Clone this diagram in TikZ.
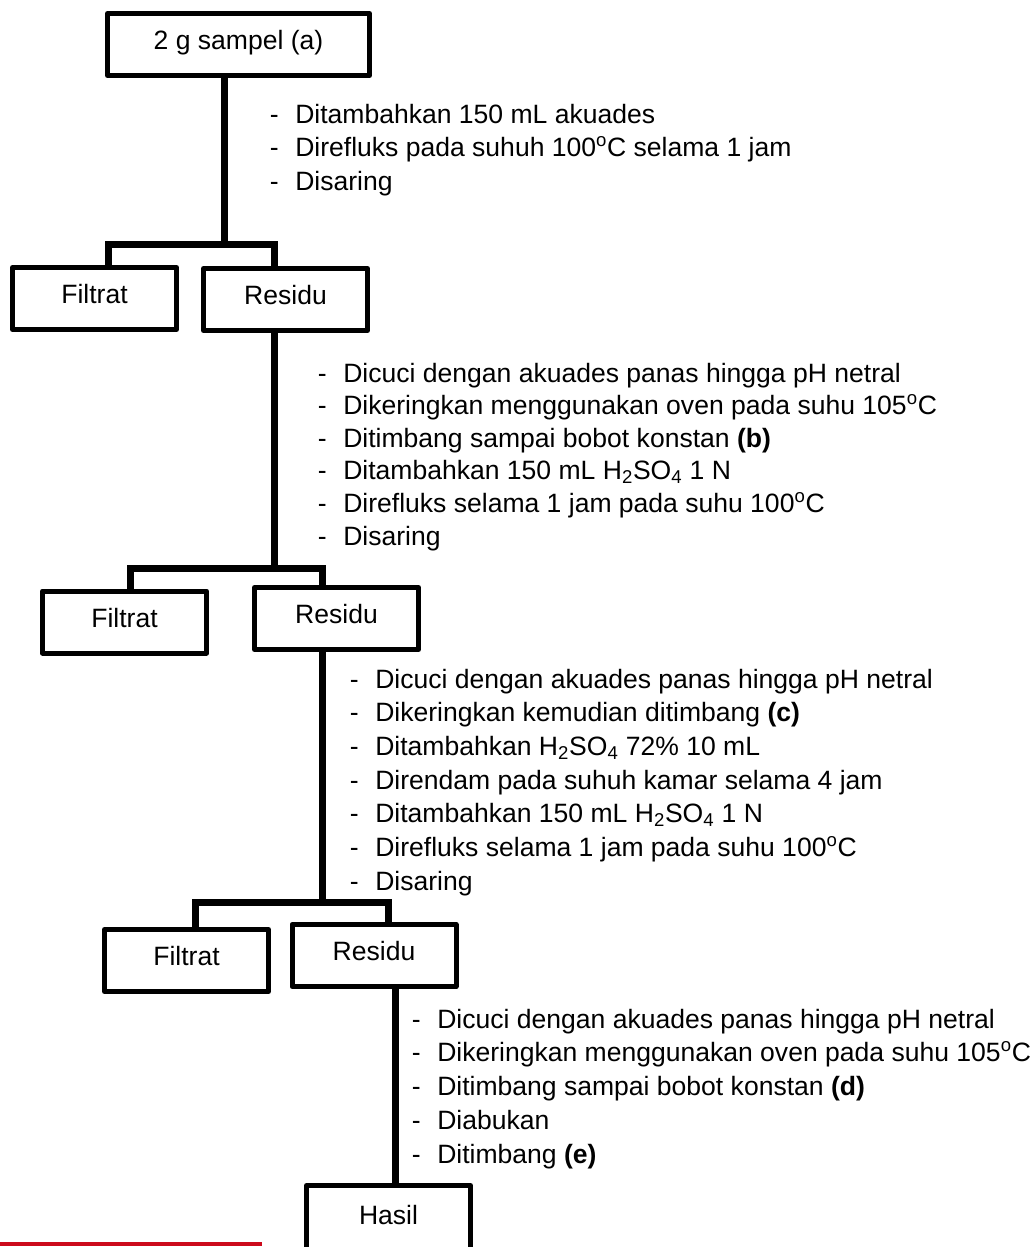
\documentclass[tikz,border=0pt]{standalone}
\usepackage{fontspec}
\setmainfont{Liberation Sans}
\newcommand{\fs}{\fontsize{19.9}{25.2}\selectfont}
\newcommand{\stl}[4]{\node[txt] (#1) at (#2,#3) {\makebox[19pt][l]{-}#4};}
\definecolor{redline}{RGB}{204,10,28}
\begin{document}
\begin{tikzpicture}[x=0.75pt,y=-0.75pt,
  box/.style={draw=black, line width=3.75pt, line join=round, minimum width=123pt,
    minimum height=46.5pt, inner sep=0pt, font=\fs, text height=14.2pt, text depth=6pt},
  conn/.style={draw=black, line width=5.25pt, line join=miter},
  txt/.style={anchor=base west, inner sep=0pt, font=\fs}]
\clip (0,0) rectangle (1034,1247);
\fill[white] (0,0) rectangle (1034,1247);

% boxes
\node[box, minimum width=196.5pt] (top) at (238.5,44.5) {2 g sampel (a)};
\node[box] (f1) at (94.5,298.5) {Filtrat};
\node[box] (r1) at (285.5,299.5) {Residu};
\node[box] (f2) at (124.5,622) {Filtrat};
\node[box] (r2) at (336.5,618.5) {Residu};
\node[box] (f3) at (186.5,960.5) {Filtrat};
\node[box] (r3) at (374,955.5) {Residu};
\node[box, minimum height=51pt] (hasil) at (388.5,1219.5) {Hasil};

% junctions
\coordinate (a1) at (224,244);
\coordinate (l1) at (108,244);
\coordinate (q1) at (274,244);
\coordinate (a2) at (274,568);
\coordinate (l2) at (130,568);
\coordinate (q2) at (322,568);
\coordinate (a3) at (322,902);
\coordinate (l3) at (195,902);
\coordinate (q3) at (388,902);
\coordinate (a4) at (395,1100);

% connectors
\draw[conn] (top.south -| a1) -- (a1);
\draw[conn] (f1.north -| l1) -- (l1) -- (q1) -- (r1.north -| q1);
\draw[conn] (r1.south -| a2) -- (a2);
\draw[conn] (f2.north -| l2) -- (l2) -- (q2) -- (r2.north -| q2);
\draw[conn] (r2.south -| a3) -- (a3);
\draw[conn] (f3.north -| l3) -- (l3) -- (q3) -- (r3.north -| q3);
\draw[conn] (r3.south -| a4) -- (hasil.north -| a4);

% step texts
\stl{s1a}{269.7}{123}{Ditambahkan 150 mL akuades}
\stl{s1b}{269.7}{156.5}{Direfluks pada suhuh 100\textsuperscript{o}C selama 1 jam}
\stl{s1c}{269.7}{190}{Disaring}

\stl{s2a}{317.7}{382}{Dicuci dengan akuades panas hingga pH netral}
\stl{s2b}{317.7}{414.6}{Dikeringkan menggunakan oven pada suhu 105\textsuperscript{o}C}
\stl{s2c}{317.7}{447.2}{Ditimbang sampai bobot konstan \textbf{(b)}}
\stl{s2d}{317.7}{479.8}{Ditambahkan 150 mL H\textsubscript{2}SO\textsubscript{4} 1 N}
\stl{s2e}{317.7}{512.4}{Direfluks selama 1 jam pada suhu 100\textsuperscript{o}C}
\stl{s2f}{317.7}{545}{Disaring}

\stl{s3a}{349.7}{688}{Dicuci dengan akuades panas hingga pH netral}
\stl{s3b}{349.7}{721.7}{Dikeringkan kemudian ditimbang \textbf{(c)}}
\stl{s3c}{349.7}{755.4}{Ditambahkan H\textsubscript{2}SO\textsubscript{4} 72\% 10 mL}
\stl{s3d}{349.7}{789.1}{Direndam pada suhuh kamar selama 4 jam}
\stl{s3e}{349.7}{822.8}{Ditambahkan 150 mL H\textsubscript{2}SO\textsubscript{4} 1 N}
\stl{s3f}{349.7}{856.5}{Direfluks selama 1 jam pada suhu 100\textsuperscript{o}C}
\stl{s3g}{349.7}{890.2}{Disaring}

\stl{s4a}{411.7}{1028}{Dicuci dengan akuades panas hingga pH netral}
\stl{s4b}{411.7}{1061.75}{Dikeringkan menggunakan oven pada suhu 105\textsuperscript{o}C}
\stl{s4c}{411.7}{1095.5}{Ditimbang sampai bobot konstan \textbf{(d)}}
\stl{s4d}{411.7}{1129.25}{Diabukan}
\stl{s4e}{411.7}{1163}{Ditimbang \textbf{(e)}}

% red rule at bottom left
\coordinate (rl0) at (0,1244);
\coordinate (rl1) at (262,1244);
\draw[redline, line width=3pt] (rl0) -- (rl1);
\end{tikzpicture}
\end{document}
